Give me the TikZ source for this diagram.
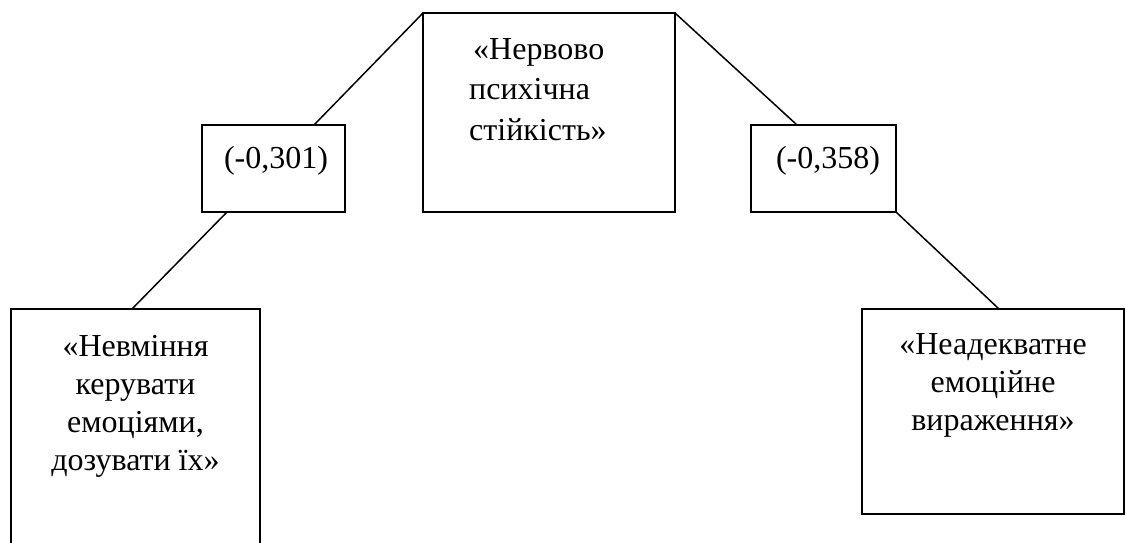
\documentclass[tikz,border=0pt]{standalone}
\usepackage{fontspec}
\setmainfont{Liberation Serif}
\usetikzlibrary{calc}
\begin{document}
\begin{tikzpicture}[x=1pt,y=1pt,
  box/.style={draw=black,line width=1.6pt,rectangle,inner sep=0pt,outer sep=0pt},
  txt/.style={inner sep=0pt,font=\fontsize{32}{38}\selectfont},
  link/.style={draw=black,line width=1.5pt}]
\useasboundingbox (0,0) rectangle (1126,542);
% boxes
\node[box,anchor=north west,minimum width=252,minimum height=199] (cen) at (423,529) {};
\node[box,anchor=north west,minimum width=143,minimum height=87] (ll) at (202,417) {};
\node[box,anchor=north west,minimum width=145,minimum height=87] (rl) at (751,417) {};
\node[box,anchor=north west,minimum width=249,minimum height=260] (lb) at (11,233) {};
\node[box,anchor=north west,minimum width=262,minimum height=205] (rb) at (862,233) {};
% texts
\node[txt,anchor=north west,align=left,font=\fontsize{32}{40.5}\selectfont] (cent) at (469,504) {\hspace*{4pt}«Нервово\\психічна\\стійкість»};
\node[txt,anchor=base] (llt) at (276,374) {(-0,301)};
\node[txt,anchor=base] (rlt) at (828,374) {(-0,358)};
\node[txt,anchor=north,align=center] (lbt) at (135.5,207) {«Невміння\\керувати\\емоціями,\\дозувати їх»};
\node[txt,anchor=north,align=center] (rbt) at (993,209) {«Неадекватне\\емоційне\\вираження»};
% connectors
\draw[link] (cen.north west) -- ($(ll.north west)+(112,0)$);
\draw[link] ($(ll.south west)+(25,0)$) -- ($(lb.north west)+(121,0)$);
\draw[link] (cen.north east) -- ($(rl.north west)+(46,0)$);
\draw[link] (rl.south east) -- ($(rb.north west)+(137,0)$);
\end{tikzpicture}
\end{document}
